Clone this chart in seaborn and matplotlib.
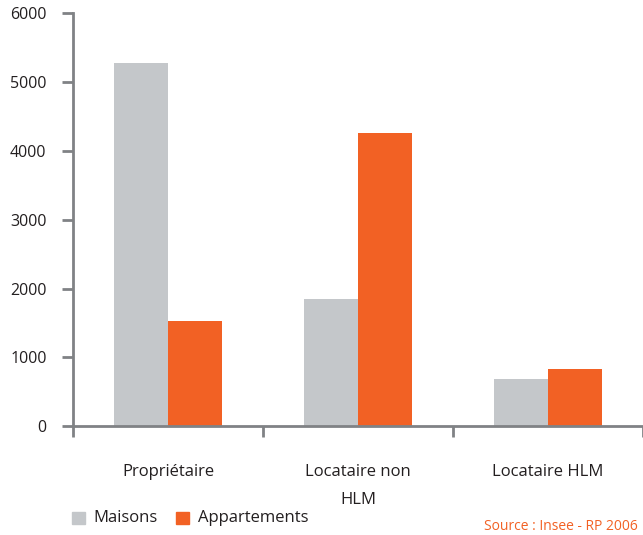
import matplotlib
matplotlib.use("Agg")
import matplotlib.pyplot as plt
import seaborn as sns
import pandas as pd

categories = ["Propriétaire", "Locataire non\n\nHLM", "Locataire HLM"]
maisons = [5275, 1850, 690]
appartements = [1530, 4255, 830]
series_names = ["Maisons", "Appartements"]
y_ticks = [0, 1000, 2000, 3000, 4000, 5000, 6000]
source_text = "Source : Insee - RP 2006"

sns.set_theme(style="white")
plt.rcParams["font.family"] = ["Open Sans", "DejaVu Sans"]

df = pd.DataFrame({
    "Statut": categories * 2,
    "Type": [series_names[0]] * 3 + [series_names[1]] * 3,
    "Valeur": maisons + appartements,
})

colors = {"Maisons": "#c4c7ca", "Appartements": "#f26124"}
axis_color = "#808285"
text_color = "#231f20"

fig = plt.figure(figsize=(6.43, 5.35), dpi=100)
ax = fig.add_axes([0.1135, 0.2037, 0.8865, 0.7711])

sns.barplot(data=df, x="Statut", y="Valeur", hue="Type", palette=colors,
            width=0.572, gap=0, saturation=1, ax=ax, legend=False,
            edgecolor="none", linewidth=0)

ax.set_xlim(-0.5, 2.5)
ax.set_ylim(0, 6000)
ax.set_yticks(y_ticks)
ax.set_yticklabels([str(v) for v in y_ticks], fontsize=11.5, color=text_color)
ax.set_xlabel("")
ax.set_ylabel("")

for side in ["top", "right"]:
    ax.spines[side].set_visible(False)
for side in ["left", "bottom"]:
    ax.spines[side].set_color(axis_color)
    ax.spines[side].set_linewidth(2)

ax.tick_params(axis="y", which="major", direction="out", length=8, width=2,
               color=axis_color, pad=11, left=True)
ax.tick_params(axis="x", which="major", length=0, pad=27, labelsize=12,
               labelcolor=text_color)
ax.set_xticks([-0.5, 0.5, 1.5, 2.5], minor=True)
ax.tick_params(axis="x", which="minor", direction="out", length=8, width=2,
               color=axis_color, bottom=True)
for lbl in ax.get_xticklabels():
    lbl.set_verticalalignment("top")
    lbl.set_linespacing(0.85)

# Legend drawn as two squares with labels under the axis
legend_items = [
    (72, series_names[0], colors["Maisons"], 93),
    (176, series_names[1], colors["Appartements"], 198),
]
W, H = 643, 535
for x_sq, name, col, x_txt in legend_items:
    fig.patches.append(plt.Rectangle((x_sq / W, 1 - 524 / H), 13 / W, 12 / H,
                                     transform=fig.transFigure, color=col))
    fig.text(x_txt / W, 1 - 518 / H, name, fontsize=12, color=text_color,
             va="center", ha="left")

fig.text(638 / W, 1 - 526 / H, source_text, fontsize=10, color="#f26124",
         va="center", ha="right")

fig.savefig("out.png", dpi=100)
